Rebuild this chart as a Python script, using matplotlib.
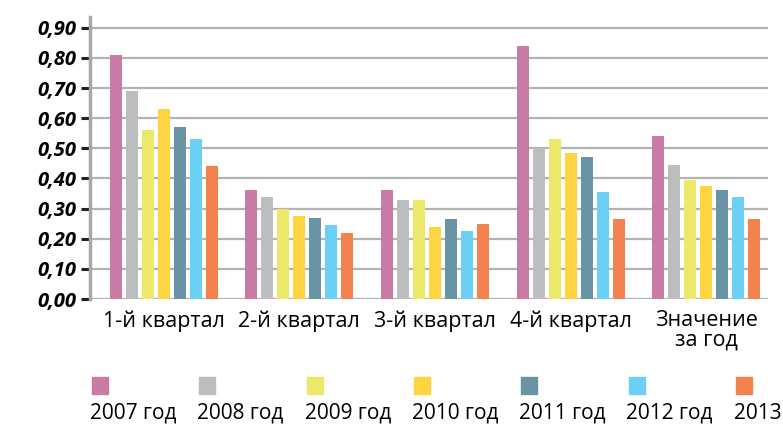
import numpy as np
import matplotlib.pyplot as plt
from matplotlib.patches import Rectangle
from matplotlib.ticker import FuncFormatter

plt.rcParams['font.family'] = ['Open Sans', 'DejaVu Sans']

# data
categories = ['1-й квартал', '2-й квартал', '3-й квартал', '4-й квартал', 'Значение\nза год']
years = ['2007 год', '2008 год', '2009 год', '2010 год', '2011 год', '2012 год', '2013 год']
colors = ['#c97ba6', '#bcbdbf', '#ebe86a', '#fed541', '#6894a6', '#6ccff4', '#f4824f']

v2007 = [0.81, 0.36, 0.36, 0.84, 0.54]
v2008 = [0.69, 0.34, 0.33, 0.50, 0.445]
v2009 = [0.56, 0.30, 0.33, 0.53, 0.395]
v2010 = [0.63, 0.275, 0.24, 0.485, 0.375]
v2011 = [0.57, 0.27, 0.265, 0.47, 0.36]
v2012 = [0.53, 0.245, 0.225, 0.355, 0.34]
v2013 = [0.44, 0.22, 0.25, 0.265, 0.265]
series = [v2007, v2008, v2009, v2010, v2011, v2012, v2013]

fig = plt.figure(figsize=(7.83, 4.29), dpi=100)
ax = fig.add_axes([0.115, 0.303, 0.866, 0.657])

x = np.arange(len(categories))
pitch = 0.118
width = 0.089
start = -0.355
for i, (vals, c) in enumerate(zip(series, colors)):
    ax.bar(x + start + i * pitch, vals, width=width, align='edge', color=c, zorder=3)

ax.set_xlim(-0.5, len(categories) - 0.5)
ax.set_ylim(0, 0.935)
ax.set_yticks(np.arange(0, 0.91, 0.1))
ax.yaxis.set_major_formatter(FuncFormatter(lambda v, p: f'{v:.2f}'.replace('.', ',')))
for lab in ax.get_yticklabels():
    lab.set_fontweight('bold')
    lab.set_fontstyle('italic')
    lab.set_fontsize(14.5)
ax.tick_params(axis='y', length=6.5, width=2.2, color='#222222', pad=3.5)
ax.grid(axis='y', color='#b3b3b3', linewidth=1.6, zorder=0)

center = start + (6 * pitch + width) / 2
ax.set_xticks(x + center)
ax.set_xticklabels(categories, fontsize=15.5, linespacing=0.9)
ax.tick_params(axis='x', length=0, pad=8)

for s in ['top', 'right', 'bottom']:
    ax.spines[s].set_visible(False)
ax.spines['left'].set_color('#a8a8a8')
ax.spines['left'].set_linewidth(2.5)

# legend drawn under the chart: swatch above, label below
x0 = 90
step = 107.3
for i, (name, c) in enumerate(zip(years, colors)):
    lx = x0 + i * step
    fig.patches.append(Rectangle(((lx + 2) / 783, 1 - 394 / 429), 16 / 783, 17 / 429,
                                 transform=fig.transFigure, color=c))
    fig.text(lx / 783, 1 - 413 / 429, name, fontsize=15, va='center', ha='left')

fig.savefig('out.png', dpi=100)
